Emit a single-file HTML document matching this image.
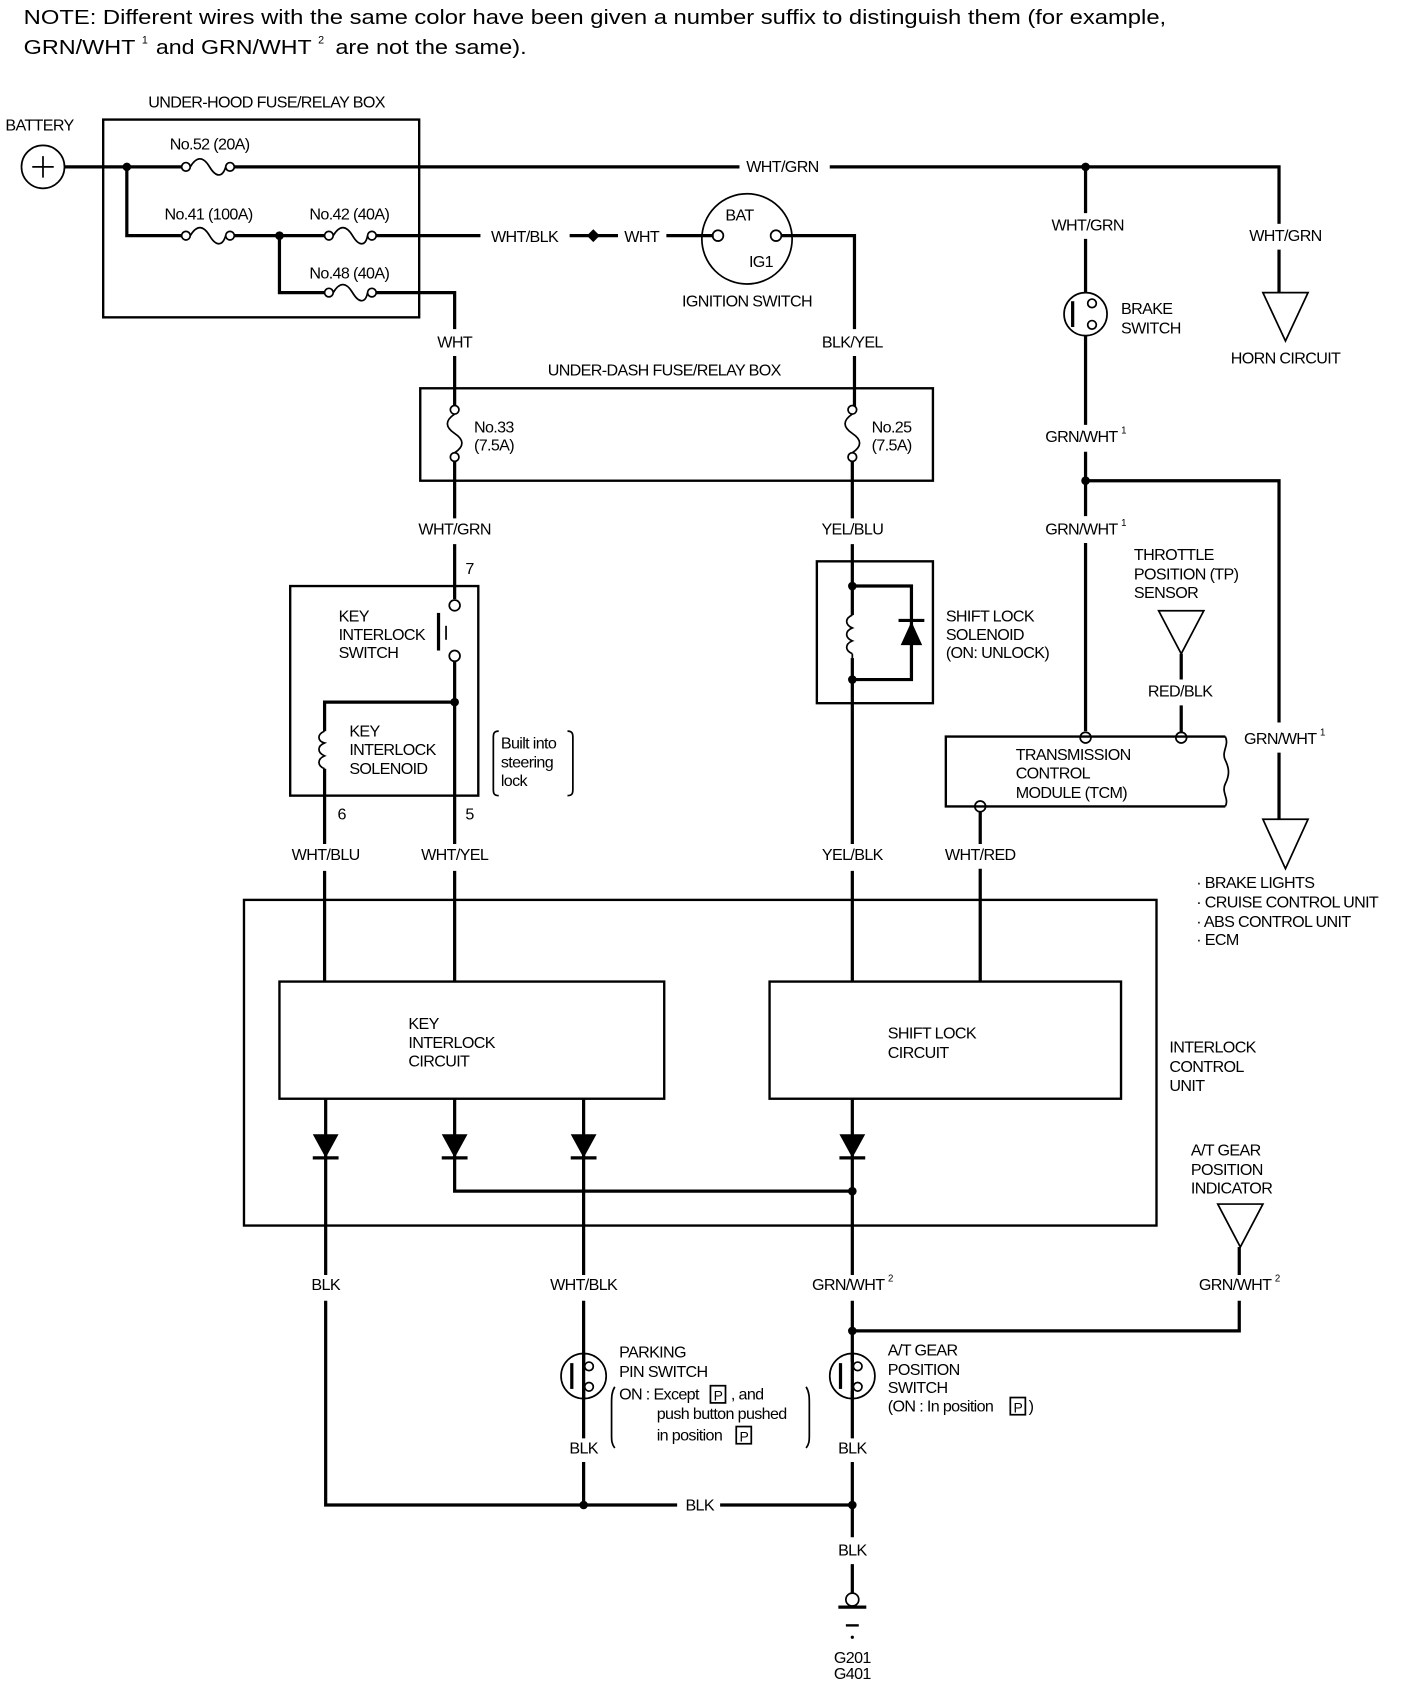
<!DOCTYPE html>
<html><head><meta charset="utf-8"><style>
html,body{margin:0;padding:0;background:#fff;}
svg{display:block;}
text{font-family:"Liberation Sans",Arial,sans-serif;font-size:15px;fill:#000;letter-spacing:-0.6px;}
.c{text-anchor:middle;}
.w{stroke:#000;stroke-width:3;fill:none;}
.b{stroke:#000;stroke-width:2.2;fill:none;}
.t{stroke:#000;stroke-width:1.6;fill:none;}
.n{font-size:19px;letter-spacing:0;}
</style></head><body>
<svg width="1408" height="1688" viewBox="0 0 1310 1570" xmlns="http://www.w3.org/2000/svg">
<rect width="1310" height="1570" fill="#fff"/>
<text x="22" y="22" class="n" textLength="1063" lengthAdjust="spacingAndGlyphs">NOTE:  Different wires with the same color have been given a number suffix to distinguish them (for example,</text>
<text x="22" y="50" class="n" textLength="104" lengthAdjust="spacingAndGlyphs">GRN/WHT</text>
<text x="132" y="40" style="font-size:10px">1</text>
<text x="145" y="50" class="n" textLength="145" lengthAdjust="spacingAndGlyphs">and GRN/WHT</text>
<text x="296" y="40" style="font-size:10px">2</text>
<text x="312" y="50" class="n" textLength="178" lengthAdjust="spacingAndGlyphs">are not the same).</text>

<!-- under-hood box -->
<rect x="96" y="111" width="294" height="184" class="b"/>
<text x="248" y="100" class="c">UNDER-HOOD FUSE/RELAY BOX</text>
<text x="5" y="121">BATTERY</text>
<circle cx="40" cy="155" r="20" class="t"/>
<path d="M30 155H50M40 145V165" class="t"/>
<!-- top wire -->
<path d="M60 155H170M217 155H688M772 155H1190V272" class="w"/>
<text x="728" y="160" class="c">WHT/GRN</text>
<circle cx="118" cy="155" r="4"/>
<g class="t"><circle cx="173" cy="155" r="4" fill="#fff"/><circle cx="214" cy="155" r="4" fill="#fff"/><path d="M177 155c6-10 12-10 18 0s12 10 15 0"/></g>
<text x="195" y="139" class="c">No.52 (20A)</text>
<path d="M118 155V219H170M217 219H303M347 219H447" class="w"/>
<g class="t"><circle cx="173" cy="219" r="4" fill="#fff"/><circle cx="214" cy="219" r="4" fill="#fff"/><path d="M177 219c6-10 12-10 18 0s12 10 15 0"/></g>
<text x="194" y="204" class="c">No.41 (100A)</text>
<circle cx="260" cy="219" r="4"/>
<g class="t"><circle cx="306" cy="219" r="4" fill="#fff"/><circle cx="346" cy="219" r="4" fill="#fff"/><path d="M310 219c6-10 12-10 18 0s12 10 14 0"/></g>
<text x="325" y="204" class="c">No.42 (40A)</text>
<text x="488" y="225" class="c">WHT/BLK</text>
<path d="M530 219H575M620 219H664" class="w"/>
<path d="M552 213l6 6-6 6-6-6z"/>
<text x="597" y="225" class="c">WHT</text>
<circle cx="695" cy="222" r="42" class="t"/>
<circle cx="668" cy="219" r="5" fill="#fff" class="t"/>
<circle cx="722" cy="219" r="5" fill="#fff" class="t"/>
<text x="688" y="205" class="c">BAT</text>
<text x="708" y="248" class="c">IG1</text>
<text x="695" y="285" class="c">IGNITION SWITCH</text>
<path d="M727 219H795V306M795 331V380" class="w"/>
<text x="793" y="323" class="c">BLK/YEL</text>
<path d="M260 219V272H303M347 272H423V306M423 331V380" class="w"/>
<g class="t"><circle cx="306" cy="272" r="4" fill="#fff"/><circle cx="346" cy="272" r="4" fill="#fff"/><path d="M310 272c6-10 12-10 18 0s12 10 14 0"/></g>
<text x="325" y="259" class="c">No.48 (40A)</text>
<text x="423" y="323" class="c">WHT</text>

<!-- right side -->
<path d="M1010 155V198M1010 222V272M1010 312V395M1010 420V480M1010 505V680" class="w"/>
<circle cx="1010" cy="155" r="4"/>
<text x="1012" y="214" class="c">WHT/GRN</text>
<path d="M1190 208V232" stroke="#fff" stroke-width="6"/>
<text x="1196" y="224" class="c">WHT/GRN</text>
<circle cx="1010" cy="292" r="20" class="t"/>
<circle cx="1016" cy="282" r="4" fill="#fff" class="t"/><circle cx="1016" cy="302" r="4" fill="#fff" class="t"/>
<path d="M998 280V304" class="w"/>
<text x="1043" y="292">BRAKE</text><text x="1043" y="310">SWITCH</text>
<path d="M1175 272H1217L1196 317Z" class="t"/>
<text x="1196" y="338" class="c">HORN CIRCUIT</text>
<text x="1010" y="411" class="c">GRN/WHT <tspan dy="-8" style="font-size:9px">1</tspan></text>
<circle cx="1010" cy="447" r="4"/>
<path d="M1010 447H1190V672M1190 700V762" class="w"/>
<text x="1010" y="497" class="c">GRN/WHT <tspan dy="-8" style="font-size:9px">1</tspan></text>
<text x="1195" y="692" class="c">GRN/WHT <tspan dy="-8" style="font-size:9px">1</tspan></text>
<path d="M1175 762H1217L1196 808Z" class="t"/>
<text x="1113" y="826">· BRAKE LIGHTS</text>
<text x="1113" y="844">· CRUISE CONTROL UNIT</text>
<text x="1113" y="862">· ABS CONTROL UNIT</text>
<text x="1113" y="879">· ECM</text>
<text x="1055" y="521">THROTTLE</text><text x="1055" y="539">POSITION (TP)</text><text x="1055" y="556">SENSOR</text>
<path d="M1078 568H1120L1099 608Z" class="t"/>
<path d="M1099 608V632M1099 656V682" class="w"/>
<text x="1098" y="648" class="c">RED/BLK</text>
<path d="M1140 685H880V750H1140" class="b"/>
<path d="M1140 685c4 8-4 14 0 22s4 14 0 22 4 14 0 21" class="t"/>
<circle cx="1010" cy="686" r="5" fill="#fff" class="t"/>
<circle cx="1099" cy="686" r="5" fill="#fff" class="t"/>
<text x="945" y="707">TRANSMISSION</text><text x="945" y="724">CONTROL</text><text x="945" y="742">MODULE (TCM)</text>
<circle cx="912" cy="750" r="5" fill="#fff" class="t"/>
<path d="M912 755V785M912 808V913" class="w"/>
<text x="912" y="800" class="c">WHT/RED</text>

<!-- under-dash box -->
<rect x="391" y="361" width="477" height="86" class="b"/>
<text x="618" y="349" class="c">UNDER-DASH FUSE/RELAY BOX</text>
<g class="t"><circle cx="423" cy="381" r="4" fill="#fff"/><circle cx="423" cy="425" r="4" fill="#fff"/><path d="M423 385c-9 6-9 12 0 18s9 12 0 18"/></g>
<g class="t"><circle cx="793" cy="381" r="4" fill="#fff"/><circle cx="793" cy="425" r="4" fill="#fff"/><path d="M793 385c-9 6-9 12 0 18s9 12 0 18"/></g>
<text x="441" y="402">No.33</text><text x="441" y="419">(7.5A)</text>
<text x="811" y="402">No.25</text><text x="811" y="419">(7.5A)</text>
<path d="M423 429V482M423 506V557M793 429V482M793 506V913" class="w"/>
<text x="423" y="497" class="c">WHT/GRN</text>
<text x="793" y="497" class="c">YEL/BLU</text>
<text x="433" y="534">7</text>

<!-- key interlock -->
<rect x="270" y="545" width="175" height="195" class="b"/>
<circle cx="423" cy="563" r="5" fill="#fff" class="t"/>
<circle cx="423" cy="610" r="5" fill="#fff" class="t"/>
<path d="M408 570V605" class="w"/>
<path d="M415 582V595" class="t"/>
<text x="315" y="578">KEY</text><text x="315" y="595">INTERLOCK</text><text x="315" y="612">SWITCH</text>
<path d="M423 615V913M423 653H302V680M302 715V913" class="w"/>
<circle cx="423" cy="653" r="4"/>
<path d="M302 680c-7 3-7 9 0 11c-7 3-7 9 0 12c-7 3-7 9 0 12" class="t"/>
<text x="325" y="685">KEY</text><text x="325" y="702">INTERLOCK</text><text x="325" y="720">SOLENOID</text>
<text x="314" y="762">6</text><text x="433" y="762">5</text>
<path d="M464 680c-5 0-5 3-5 6V734c0 3 0 6 5 6M528 680c5 0 5 3 5 6V734c0 3 0 6-5 6" class="t"/>
<text x="466" y="696">Built into</text><text x="466" y="714">steering</text><text x="466" y="731">lock</text>
<path d="M302 785V810M423 785V810M793 785V810" stroke="#fff" stroke-width="6"/>
<text x="303" y="800" class="c">WHT/BLU</text>
<text x="423" y="800" class="c">WHT/YEL</text>
<text x="793" y="800" class="c">YEL/BLK</text>

<!-- shift lock solenoid -->
<rect x="760" y="522" width="108" height="132" class="b"/>
<path d="M793 545H848V632H793" class="w"/>
<circle cx="793" cy="545" r="4"/><circle cx="793" cy="632" r="4"/>
<rect x="785" y="572" width="16" height="40" fill="#fff"/>
<path d="M793 572c-7 3-7 9 0 12c-7 3-7 9 0 12c-7 3-7 9 0 12" class="t"/>
<path d="M793 572v-3M793 608v4" class="t"/>
<path d="M838 600H858L848 578Z"/><path d="M836 577H860" class="w"/>
<text x="880" y="578">SHIFT LOCK</text><text x="880" y="595">SOLENOID</text><text x="880" y="612">(ON: UNLOCK)</text>

<!-- interlock control unit -->
<rect x="227" y="837" width="849" height="303" class="b"/>
<text x="1088" y="979">INTERLOCK</text><text x="1088" y="997">CONTROL</text><text x="1088" y="1015">UNIT</text>
<rect x="260" y="913" width="358" height="109" class="b" fill="#fff"/>
<rect x="716" y="913" width="327" height="109" class="b" fill="#fff"/>
<text x="380" y="957">KEY</text><text x="380" y="975">INTERLOCK</text><text x="380" y="992">CIRCUIT</text>
<text x="826" y="966">SHIFT LOCK</text><text x="826" y="984">CIRCUIT</text>
<path d="M303 1022V1186M303 1210V1400H630M670 1400H793M423 1022V1108H793M543 1022V1186M543 1210V1338M543 1360V1400M793 1022V1186M793 1210V1338M793 1360V1430M793 1455V1482M793 1238H1153V1210" class="w"/>
<g>
<path d="M291 1055H315L303 1077Z"/><path d="M291 1077H315" class="w"/>
<path d="M411 1055H435L423 1077Z"/><path d="M411 1077H435" class="w"/>
<path d="M531 1055H555L543 1077Z"/><path d="M531 1077H555" class="w"/>
<path d="M781 1055H805L793 1077Z"/><path d="M781 1077H805" class="w"/>
</g>
<circle cx="793" cy="1108" r="4"/>
<text x="303" y="1200" class="c">BLK</text>
<text x="543" y="1200" class="c">WHT/BLK</text>
<text x="793" y="1200" class="c">GRN/WHT <tspan dy="-8" style="font-size:9px">2</tspan></text>
<text x="1153" y="1200" class="c">GRN/WHT <tspan dy="-8" style="font-size:9px">2</tspan></text>
<text x="1108" y="1075">A/T GEAR</text><text x="1108" y="1093">POSITION</text><text x="1108" y="1110">INDICATOR</text>
<path d="M1133 1120H1175L1154 1160Z" class="t"/>
<path d="M1153 1160V1186" class="w"/>
<circle cx="793" cy="1238" r="4"/>
<!-- parking pin switch -->
<circle cx="543" cy="1280" r="21" fill="#fff" class="t"/>
<circle cx="548" cy="1271" r="4" fill="#fff" class="t"/><circle cx="548" cy="1290" r="4" fill="#fff" class="t"/>
<path d="M532 1268V1292" class="w"/>
<path d="M543 1259v8M543 1294v8" class="w"/>
<text x="576" y="1263">PARKING</text><text x="576" y="1281">PIN SWITCH</text>
<text x="576" y="1302">ON : Except</text>
<rect x="661" y="1289" width="14" height="16" class="t"/><text x="664" y="1303" style="font-size:13px">P</text>
<text x="680" y="1302">, and</text>
<text x="611" y="1320">push button pushed</text>
<text x="611" y="1340">in position</text>
<rect x="685" y="1327" width="14" height="16" class="t"/><text x="688" y="1341" style="font-size:13px">P</text>
<path d="M572 1290c-3 5-3 10-3 15V1335c0 5 0 8 3 12M750 1290c3 5 3 10 3 15V1335c0 5 0 8-3 12" class="t"/>
<!-- A/T switch -->
<circle cx="793" cy="1280" r="21" fill="#fff" class="t"/>
<circle cx="798" cy="1271" r="4" fill="#fff" class="t"/><circle cx="798" cy="1290" r="4" fill="#fff" class="t"/>
<path d="M782 1268V1292" class="w"/>
<path d="M793 1259v8M793 1294v8" class="w"/>
<text x="826" y="1261">A/T GEAR</text><text x="826" y="1279">POSITION</text><text x="826" y="1296">SWITCH</text>
<text x="826" y="1313">(ON : In position</text>
<rect x="940" y="1300" width="14" height="16" class="t"/><text x="943" y="1314" style="font-size:13px">P</text>
<text x="957" y="1313">)</text>
<text x="543" y="1352" class="c">BLK</text>
<text x="793" y="1352" class="c">BLK</text>
<circle cx="543" cy="1400" r="4"/><circle cx="793" cy="1400" r="4"/>
<text x="651" y="1405" class="c">BLK</text>
<text x="793" y="1447" class="c">BLK</text>
<circle cx="793" cy="1488" r="6" fill="#fff" class="t"/>
<path d="M780 1495H806" class="w"/>
<path d="M787 1512H799" class="b"/>
<circle cx="793" cy="1523" r="1.5"/>
<text x="793" y="1547" class="c">G201</text>
<text x="793" y="1562" class="c">G401</text>
</svg>
</body></html>
